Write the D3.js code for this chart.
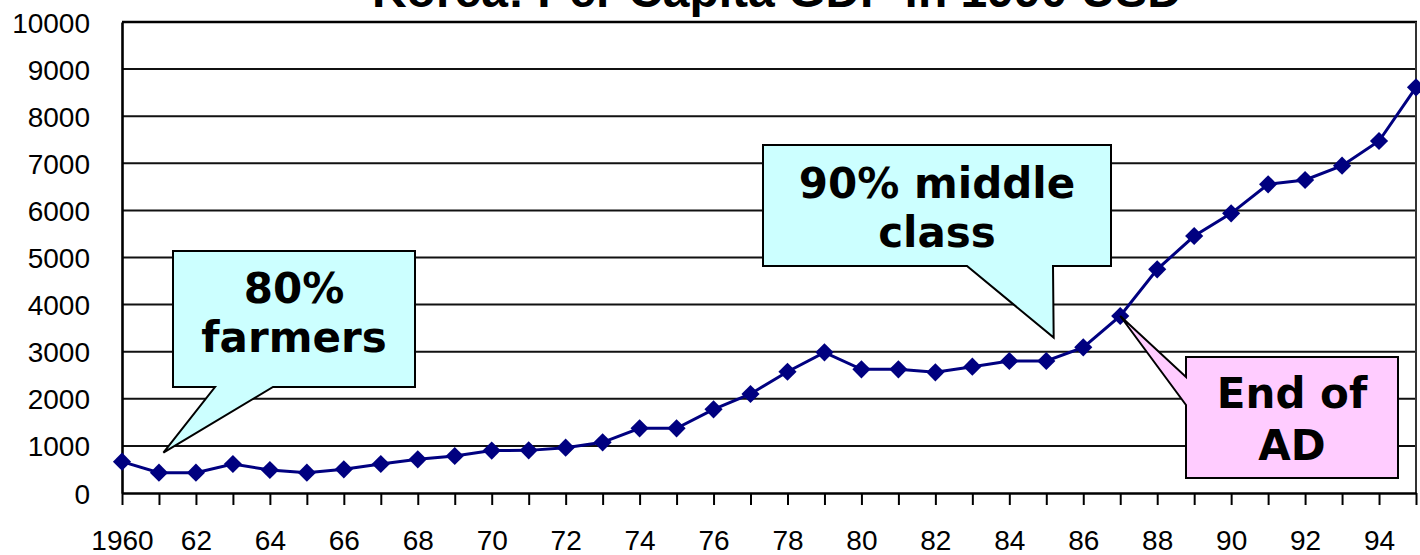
<!DOCTYPE html>
<html>
<head>
<meta charset="utf-8">
<script src="https://cdn.jsdelivr.net/npm/d3@7"></script>
<style>
  html, body { margin: 0; padding: 0; background: #fff; }
  svg { display: block; }
</style>
</head>
<body>
<svg id="chart" width="1420" height="555"></svg>
<script>
// ---- data ----
const title = "Korea: Per Capita GDP in 1990 USD";
const years = d3.range(1960, 1996);
const gdp = [665, 431, 431, 616, 488, 431, 503, 616, 715, 785,
             900, 905, 962, 1076, 1373, 1373, 1777, 2102, 2575, 2987,
             2626, 2626, 2562, 2682, 2803, 2803, 3093, 3758, 4749, 5456,
             5938, 6554, 6645, 6949, 7473, 8613];
const yTicks = [0, 1000, 2000, 3000, 4000, 5000, 6000, 7000, 8000, 9000, 10000];
const xLabelYears = d3.range(1960, 1996, 2);
const xLabel = y => y === 1960 ? "1960" : String(y % 100);

const notes = [
  { lines: ["80%", "farmers"], fill: "#CCFFFF" },
  { lines: ["90% middle", "class"], fill: "#CCFFFF" },
  { lines: ["End of", "AD"], fill: "#FFCCFF" }
];

// ---- layout ----
const svg = d3.select("#chart");
const m = { left: 122, right: 1416, top: 22, bottom: 493 };
const x = d3.scaleLinear().domain([1960, 1995]).range([m.left, m.right]);
const y = d3.scaleLinear().domain([0, 10000]).range([m.bottom, m.top]);

// gridlines
svg.append("g").selectAll("line").data(yTicks.filter(v => v > 0 && v < 10000)).join("line")
  .attr("x1", m.left).attr("x2", m.right)
  .attr("y1", d => y(d)).attr("y2", d => y(d))
  .attr("stroke", "#111").attr("stroke-width", 2);

// frame: top & right
svg.append("line").attr("x1", m.left).attr("x2", m.right + 1).attr("y1", m.top).attr("y2", m.top)
  .attr("stroke", "#000").attr("stroke-width", 2.6);
svg.append("line").attr("x1", m.right).attr("x2", m.right).attr("y1", m.top).attr("y2", m.bottom)
  .attr("stroke", "#333").attr("stroke-width", 2);

// y axis
const yAxis = svg.append("g").attr("transform", `translate(${m.left},0)`)
  .call(d3.axisLeft(y).tickValues(yTicks).tickSize(0).tickPadding(32).tickFormat(d3.format("d")));
yAxis.select(".domain").attr("stroke", "#000").attr("stroke-width", 2.6);
yAxis.selectAll("text").attr("font-family", "Liberation Sans, Arial, sans-serif")
  .attr("font-size", 28).attr("fill", "#000").attr("dy", "0.36em");

// x axis with ticks every year
const xAxis = svg.append("g").attr("transform", `translate(0,${m.bottom})`)
  .call(d3.axisBottom(x).tickValues(years).tickSize(12).tickSizeOuter(0)
    .tickFormat(d => xLabelYears.includes(d) ? xLabel(d) : ""));
xAxis.select(".domain").attr("stroke", "#000").attr("stroke-width", 2.6);
xAxis.selectAll(".tick line").attr("stroke", "#000").attr("stroke-width", 2);
xAxis.selectAll("text").attr("font-family", "Liberation Sans, Arial, sans-serif")
  .attr("font-size", 28).attr("fill", "#000").attr("y", 57).attr("dy", 0);

// title (partly off the top, as in the source)
svg.append("text").attr("x", 777).attr("y", 7).attr("text-anchor", "middle")
  .attr("font-family", "Liberation Sans, Arial, sans-serif").attr("font-weight", "bold")
  .attr("font-size", 48).attr("fill", "#000").text(title);

// line + markers
const pts = years.map((yr, i) => [yr, gdp[i]]);
svg.append("path").datum(pts)
  .attr("fill", "none").attr("stroke", "#000080").attr("stroke-width", 3)
  .attr("d", d3.line().x(d => x(d[0])).y(d => y(d[1])));
svg.append("g").selectAll("path").data(pts).join("path")
  .attr("d", d3.symbol(d3.symbolSquare).size(165))
  .attr("transform", d => `translate(${x(d[0])},${y(d[1])}) rotate(45)`)
  .attr("fill", "#000080");

// callouts (annotation geometry)
const shapes = [
  { box: [173, 251, 415, 387], pts: [[415,387],[273,387],[x(1961.12), y(855)],[215,387],[173,387]] },
  { box: [763, 145, 1111, 266], pts: [[1111,266],[1053,266],[x(1985.2), y(3300)],[967,266],[763,266]] },
  { box: [1186, 357, 1398, 478], pts: [[1398,478],[1186,478],[1186,405],[x(1987), y(3758)],[1186,377]] }
];
const baselines = [[303, 352], [198, 247], [408, 460]];
shapes.forEach((s, i) => {
  const [x0, y0, x1] = s.box;
  const poly = [[x0, y0], [x1, y0], ...s.pts];
  svg.append("path")
    .attr("d", "M" + poly.map(p => p.join(",")).join("L") + "Z")
    .attr("fill", notes[i].fill).attr("stroke", "#000").attr("stroke-width", 2)
    .attr("stroke-linejoin", "miter");
  const cx = (s.box[0] + s.box[2]) / 2;
  notes[i].lines.forEach((t, j) => {
    svg.append("text").attr("x", cx).attr("y", baselines[i][j]).attr("text-anchor", "middle")
      .attr("font-family", "DejaVu Sans, Verdana, sans-serif").attr("font-weight", "bold")
      .attr("font-size", 42).attr("fill", "#000").text(t);
  });
});
</script>
</body>
</html>
